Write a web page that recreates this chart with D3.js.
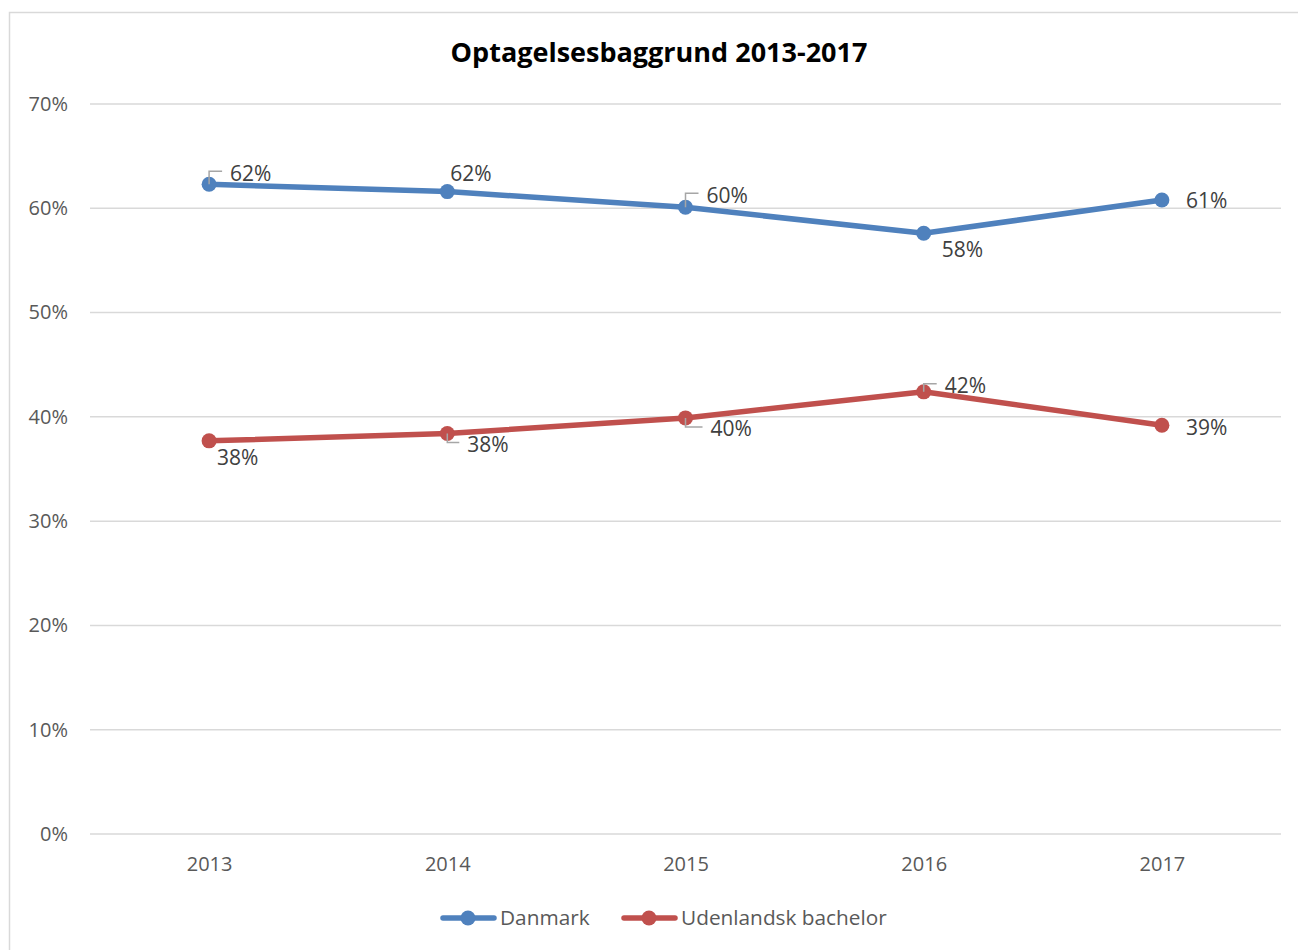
<!DOCTYPE html>
<html>
<head>
<meta charset="utf-8">
<script src="https://cdnjs.cloudflare.com/ajax/libs/d3/7.8.5/d3.min.js"></script>
<style>
  body { margin: 0; background: #fff; }
  svg { font-family: "Open Sans", sans-serif; }
</style>
</head>
<body>
<svg width="1298" height="950"></svg>
<script>
const years = ["2013", "2014", "2015", "2016", "2017"];
const danmark = [0.623, 0.616, 0.601, 0.576, 0.608];
const udenlandsk = [0.377, 0.384, 0.399, 0.424, 0.392];
const yTicks = [0, 0.1, 0.2, 0.3, 0.4, 0.5, 0.6, 0.7];

// label placement: text start offset from point, and whether a leader line is drawn
const danmarkLabelPos = [[21, -11, true], [3, -18, false], [21, -12, true], [18, 16, false], [24, 1, false]];
const udenlandskLabelPos = [[8, 17, false], [20, 11, true], [25, 11, true], [21, -6, true], [24, 2, false]];

const svg = d3.select("svg");
const margin = { top: 104, right: 17, bottom: 116, left: 90 };
const width = 1298 - margin.left - margin.right;
const height = 950 - margin.top - margin.bottom;

// outer chart border
svg.append("rect")
    .attr("x", 9.5).attr("y", 12.5)
    .attr("width", 1310).attr("height", 960)
    .attr("fill", "none")
    .attr("stroke", "#d9d9d9")
    .attr("stroke-width", 1.5);

svg.append("text")
    .attr("x", 659).attr("y", 62)
    .attr("text-anchor", "middle")
    .attr("font-size", 27)
    .attr("font-weight", "bold")
    .attr("fill", "#000")
    .text("Optagelsesbaggrund 2013-2017");

const g = svg.append("g")
    .attr("transform", "translate(" + margin.left + "," + margin.top + ")");

const x = d3.scalePoint()
    .domain(years)
    .range([0, width])
    .padding(0.5);

const y = d3.scaleLinear()
    .domain([0, 0.7])
    .range([height, 0]);

// gridlines
g.append("g")
    .selectAll("line")
    .data(yTicks)
    .join("line")
    .attr("x1", 0).attr("x2", width)
    .attr("y1", d => y(d)).attr("y2", d => y(d))
    .attr("stroke", "#d9d9d9")
    .attr("stroke-width", 1.5);

const yAxis = g.append("g")
    .call(d3.axisLeft(y).tickValues(yTicks).tickFormat(d3.format(".0%")).tickSize(0).tickPadding(22))
    .attr("font-family", null)
    .attr("font-size", 20);
yAxis.select(".domain").remove();
yAxis.selectAll("text")
    .attr("fill", "#595959");

const xAxis = g.append("g")
    .attr("transform", "translate(0," + height + ")")
    .call(d3.axisBottom(x).tickSize(0).tickPadding(23))
    .attr("font-family", null)
    .attr("font-size", 20);
xAxis.select(".domain").remove();
xAxis.selectAll("text")
    .attr("fill", "#595959");

const series = [
    { name: "Danmark", values: danmark, color: "#4f81bd", labels: danmarkLabelPos },
    { name: "Udenlandsk bachelor", values: udenlandsk, color: "#c0504d", labels: udenlandskLabelPos }
];

const line = d3.line()
    .x((d, i) => x(years[i]))
    .y(d => y(d));

series.forEach(function(s) {
    g.append("path")
        .datum(s.values)
        .attr("fill", "none")
        .attr("stroke", s.color)
        .attr("stroke-width", 5.5)
        .attr("stroke-linejoin", "round")
        .attr("stroke-linecap", "round")
        .attr("d", line);

    g.append("g")
        .selectAll("circle")
        .data(s.values)
        .join("circle")
        .attr("cx", (d, i) => x(years[i]))
        .attr("cy", d => y(d))
        .attr("r", 7.5)
        .attr("fill", s.color);

    // leader lines
    g.append("g")
        .selectAll("path")
        .data(s.values.map((v, i) => ({ v: v, i: i, p: s.labels[i] })).filter(d => d.p[2]))
        .join("path")
        .attr("fill", "none")
        .attr("stroke", "#a6a6a6")
        .attr("stroke-width", 1.5)
        .attr("d", function(d) {
            const px = x(years[d.i]), py = y(d.v);
            const ly = py + d.p[1] - 2;
            return "M" + px + "," + py + "V" + ly + "H" + (px + d.p[0] - 8);
        });

    g.append("g")
        .selectAll("text")
        .data(s.values)
        .join("text")
        .attr("x", (d, i) => x(years[i]) + s.labels[i][0])
        .attr("y", (d, i) => y(d) + s.labels[i][1])
        .attr("dy", "0.35em")
        .attr("font-size", 21)
        .attr("fill", "#404040")
        .text(d => d3.format(".0%")(d));
});

// legend
const legend = svg.append("g").attr("transform", "translate(441,918)");
const legendX = [0, 181];
series.forEach(function(s, i) {
    const lg = legend.append("g").attr("transform", "translate(" + legendX[i] + ",0)");
    lg.append("line")
        .attr("x1", 2).attr("x2", 53)
        .attr("stroke", s.color)
        .attr("stroke-width", 5.5)
        .attr("stroke-linecap", "round");
    lg.append("circle")
        .attr("cx", 27).attr("r", 7.5)
        .attr("fill", s.color);
    lg.append("text")
        .attr("x", 59).attr("dy", "0.35em")
        .attr("font-size", 20.8)
        .attr("fill", "#595959")
        .text(s.name);
});
</script>
</body>
</html>
